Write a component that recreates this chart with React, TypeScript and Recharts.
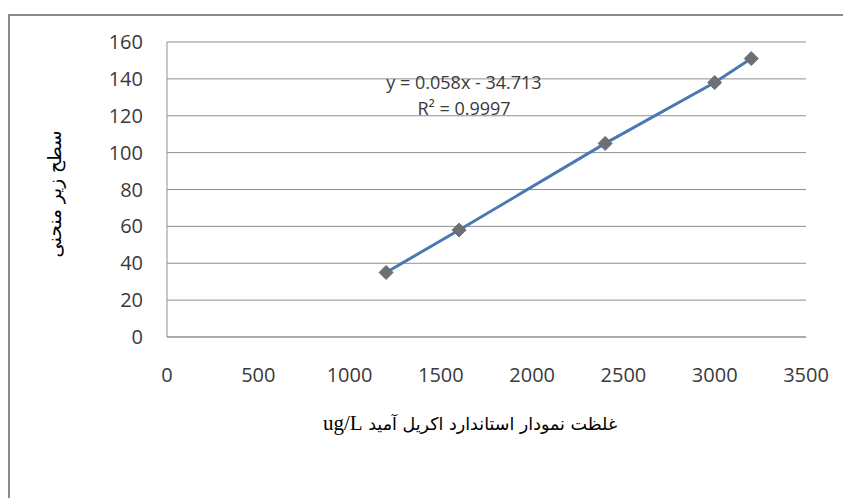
import React from "react";
import { ComposedChart, Line, XAxis, YAxis, CartesianGrid } from "recharts";

const concentrations = [1200, 1600, 2400, 3000, 3200];
const areas = [35, 58, 105, 138, 151];
const xTicks = [0, 500, 1000, 1500, 2000, 2500, 3000, 3500];
const yTicks = [0, 20, 40, 60, 80, 100, 120, 140, 160];
const xTitle = "غلظت نمودار استاندارد اکریل آمید";
const xUnit = "ug/L";
const yTitle = "سطح زیر منحنی";
const equationLine = "y = 0.058x - 34.713";
const r2Line = "R² = 0.9997";

const data = concentrations.map((x, i) => ({ x, y: areas[i] }));

const W = 835;
const H = 490;
const GRID = "#8f8f8f";
const TICK_FONT = { fill: "#3a3a3a", fontSize: 20, fontFamily: "'Open Sans', sans-serif" };

const Diamond = (props: any) => {
  const { cx, cy } = props;
  if (cx == null || cy == null) return null;
  const s = 7;
  return (
    <polygon
      points={`${cx},${cy - s} ${cx + s},${cy} ${cx},${cy + s} ${cx - s},${cy}`}
      fill="#6c6f74"
      stroke="#6c6f74"
      strokeWidth={1}
    />
  );
};

export default function App() {
  return (
    <div style={{ position: "fixed", left: 8, top: 8, width: W, height: H, overflow: "hidden", background: "#fff" }}>
      <div
        style={{
          position: "absolute",
          left: 0,
          top: 6,
          width: W + 10,
          height: H + 10,
          borderLeft: "2px solid #8a8a8a",
          borderTop: "2px solid #8a8a8a",
          boxSizing: "border-box",
        }}
      />
      <ComposedChart
        width={W}
        height={H}
        data={data}
        margin={{ top: 34, right: 37, bottom: 61, left: 0 }}
        style={{ position: "absolute", left: 0, top: 0 }}
      >
        <CartesianGrid vertical={false} stroke={GRID} strokeWidth={1} />
        <XAxis
          type="number"
          dataKey="x"
          domain={[0, 3500]}
          ticks={xTicks}
          interval={0}
          tickLine={false}
          tickSize={0}
          tickMargin={31}
          axisLine={{ stroke: GRID }}
          height={100}
          tick={TICK_FONT}
        />
        <YAxis
          type="number"
          domain={[0, 160]}
          ticks={yTicks}
          interval={0}
          tickLine={false}
          tickSize={0}
          tickMargin={24}
          axisLine={{ stroke: GRID }}
          width={159}
          tick={TICK_FONT}
        />
        <Line
          type="linear"
          dataKey="y"
          stroke="#4a78b2"
          strokeWidth={3}
          dot={<Diamond />}
          activeDot={false}
          isAnimationActive={false}
        />
        <text
          x={456}
          y={81}
          textAnchor="middle"
          fontSize={18}
          fontFamily="'Open Sans', sans-serif"
          fill="#3a3a3a"
        >
          {equationLine}
        </text>
        <text
          x={456}
          y={107}
          textAnchor="middle"
          fontSize={18}
          fontFamily="'Open Sans', sans-serif"
          fill="#3a3a3a"
        >
          {r2Line}
        </text>
        <text x={462} y={422} textAnchor="middle" fill="#000" direction="ltr">
          <tspan fontFamily="'Liberation Serif', serif" fontSize={21}>{xUnit}</tspan>
          <tspan fontFamily="'DejaVu Sans', sans-serif" fontSize={17.5}>{" " + xTitle}</tspan>
        </text>
        <text
          x={46}
          y={186}
          textAnchor="middle"
          dominantBaseline="central"
          transform="rotate(-90 46 186)"
          fontFamily="'DejaVu Sans', sans-serif"
          fontSize={18.5}
          fill="#000"
        >
          {yTitle}
        </text>
      </ComposedChart>
    </div>
  );
}
